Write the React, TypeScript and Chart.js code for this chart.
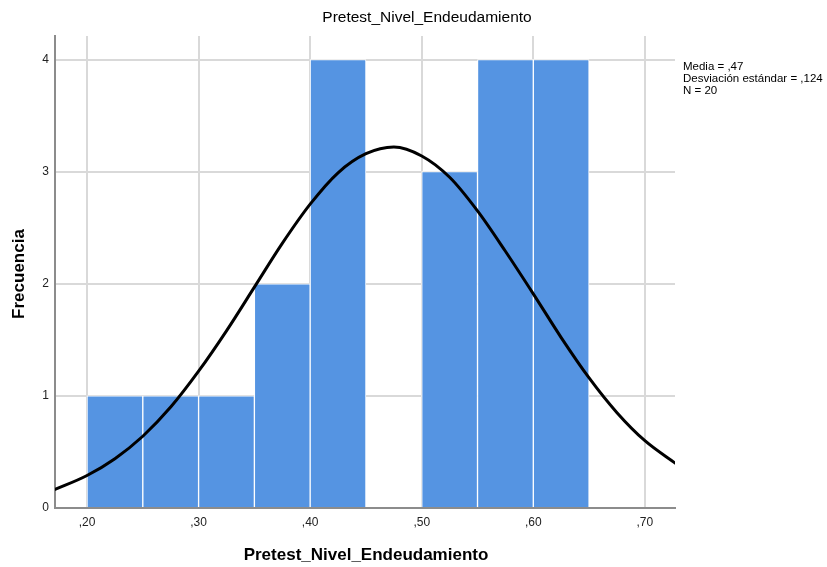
import { useEffect, useRef } from 'react';
import { Chart, registerables } from 'chart.js';

Chart.register(...registerables);

// Histogram bins (centers of 0.05-wide bins) and their frequencies
const binCenters = [0.225, 0.275, 0.325, 0.375, 0.425, 0.475, 0.525, 0.575, 0.625];
const frequencies = [1, 1, 1, 2, 4, 0, 3, 4, 4];

// Normal curve
const curveX = [0.17, 0.2, 0.225, 0.25, 0.275, 0.3, 0.325, 0.35, 0.375, 0.4, 0.425, 0.45, 0.475, 0.5, 0.525, 0.55, 0.575, 0.6, 0.625, 0.65, 0.675, 0.7, 0.73];
const curveY = [0.16, 0.29, 0.44, 0.64, 0.9, 1.22, 1.58, 1.97, 2.36, 2.71, 2.99, 3.16, 3.22, 3.14, 2.95, 2.65, 2.29, 1.91, 1.52, 1.16, 0.85, 0.6, 0.38];

const xTicks = [0.2, 0.3, 0.4, 0.5, 0.6, 0.7];
const yTicks = [0, 1, 2, 3, 4];

const chartTitle = 'Pretest_Nivel_Endeudamiento';
const xTitle = 'Pretest_Nivel_Endeudamiento';
const yTitle = 'Frecuencia';
const legendLines = ['Media = ,47', 'Desviación estándar = ,124', 'N = 20'];

const FONT = '"Liberation Sans", Arial, sans-serif';

const textPlugin = {
  id: 'texts',
  afterDraw(chart: any) {
    const ctx = chart.ctx as CanvasRenderingContext2D;
    ctx.save();
    ctx.fillStyle = '#000';
    ctx.textBaseline = 'middle';
    ctx.textAlign = 'center';
    ctx.font = `15.5px ${FONT}`;
    ctx.fillText(chartTitle, 427, 18);
    ctx.font = `bold 17px ${FONT}`;
    ctx.fillText(xTitle, 366, 555);
    ctx.save();
    ctx.translate(19, 274);
    ctx.rotate(-Math.PI / 2);
    ctx.fillText(yTitle, 0, 0);
    ctx.restore();
    ctx.textAlign = 'left';
    ctx.font = `11.5px ${FONT}`;
    legendLines.forEach((t, i) => ctx.fillText(t, 683, 67 + i * 12));
    ctx.restore();
  },
};

export default function App() {
  const ref = useRef<HTMLCanvasElement>(null);
  useEffect(() => {
    document.body.style.margin = '0';
    const chart = new Chart(ref.current!, {
      type: 'bar',
      data: {
        datasets: [
          {
            type: 'line',
            data: curveX.map((x, i) => ({ x, y: curveY[i] })),
            borderColor: '#000',
            borderWidth: 3,
            pointRadius: 0,
            cubicInterpolationMode: 'monotone',
            fill: false,
            order: 0,
          } as any,
          {
            type: 'bar',
            data: binCenters.map((x, i) => ({ x, y: frequencies[i] })),
            backgroundColor: '#5594e2',
            borderColor: '#ffffff',
            borderWidth: 1,
            borderSkipped: 'bottom',
            barPercentage: 1,
            categoryPercentage: 1,
            order: 1,
          } as any,
        ],
      },
      options: {
        responsive: false,
        animation: false,
        layout: { padding: { top: 36, right: 152, left: 0, bottom: 0 } },
        plugins: { legend: { display: false }, tooltip: { enabled: false }, title: { display: false } },
        scales: {
          x: {
            type: 'linear',
            min: 0.1713,
            max: 0.727,
            offset: false,
            afterFit: (s: any) => { s.height = 59; },
            afterBuildTicks: (s: any) => { s.ticks = xTicks.map((v) => ({ value: v })); },
            grid: { color: '#d9d9d9', lineWidth: 2, drawTicks: false, offset: false },
            border: { display: true, color: '#8c8c8c', width: 2 },
            ticks: {
              padding: 7,
              color: '#222',
              font: { size: 12, family: FONT },
              maxRotation: 0,
              callback: (v: any) => ',' + String(Math.round(Number(v) * 100)),
            },
          },
          y: {
            type: 'linear',
            min: 0,
            max: 4.21,
            afterFit: (s: any) => { s.width = 55; },
            afterBuildTicks: (s: any) => { s.ticks = yTicks.map((v) => ({ value: v })); },
            grid: { color: '#d9d9d9', lineWidth: 2, drawTicks: false },
            border: { display: true, color: '#8c8c8c', width: 2 },
            ticks: {
              padding: 6,
              color: '#222',
              font: { size: 12, family: FONT },
              callback: (v: any) => String(v),
            },
          },
        },
      } as any,
      plugins: [textPlugin],
    });
    return () => chart.destroy();
  }, []);
  return (
    <canvas
      ref={ref}
      width={827}
      height={567}
      style={{ display: 'block', width: 827, height: 567 }}
    />
  );
}
